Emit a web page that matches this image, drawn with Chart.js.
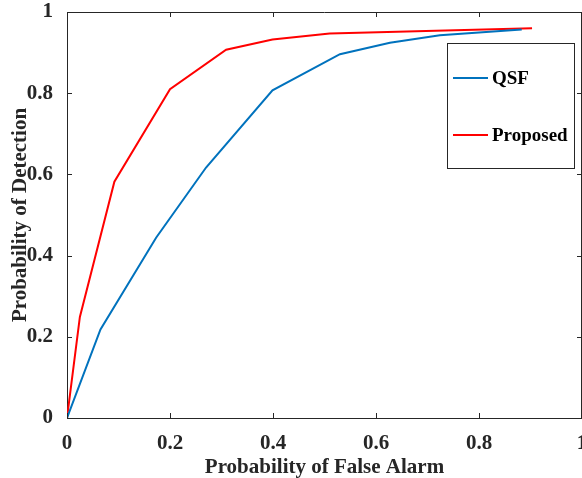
<!DOCTYPE html>
<html>
<head>
<meta charset="utf-8">
<script src="https://cdn.jsdelivr.net/npm/chart.js@4"></script>
<style>
  html, body { margin: 0; padding: 0; background: #fff; overflow: hidden; }
  #wrap { width: 582px; height: 478px; overflow: hidden; }
</style>
</head>
<body>
<div id="wrap"><canvas id="myCanvas" width="620" height="478"></canvas></div>
<script>
// values
let qsfPfa = [0, 0.065, 0.173, 0.27, 0.399, 0.53, 0.627, 0.724, 0.883];
let qsfPd = [0, 0.218, 0.444, 0.617, 0.807, 0.896, 0.924, 0.943, 0.957];
let propPfa = [0, 0.025, 0.092, 0.2, 0.309, 0.399, 0.51, 0.903];
let propPd = [0, 0.249, 0.582, 0.81, 0.907, 0.932, 0.947, 0.96];
let tickValues = [0, 0.2, 0.4, 0.6, 0.8, 1];

let axisColor = '#262626';
let blue = 'rgb(0,114,189)';
let red = 'rgb(255,0,0)';
let fontFamily = '"Liberation Serif", "Times New Roman", serif';

function toPoints(xs, ys) {
    return xs.map((x, i) => ({ x: x, y: ys[i] }));
}

function tickText(v) {
    return String(+Number(v).toFixed(1));
}

// MATLAB style box: top line + ticks pointing inward, legend box inside
let matlabAxes = {
    id: 'matlabAxes',
    afterDraw(chart) {
        let ctx = chart.ctx;
        let area = chart.chartArea;
        let xs = chart.scales.x, ys = chart.scales.y;
        ctx.save();
        ctx.strokeStyle = axisColor;
        ctx.lineWidth = 1;
        ctx.beginPath();
        ctx.moveTo(area.left, area.top + 0.5);
        ctx.lineTo(area.right, area.top + 0.5);
        ctx.moveTo(area.right - 0.5, area.top);
        ctx.lineTo(area.right - 0.5, area.bottom);
        let len = 5;
        tickValues.forEach(v => {
            let px = Math.round(xs.getPixelForValue(v)) + 0.5;
            ctx.moveTo(px, area.bottom);
            ctx.lineTo(px, area.bottom - len);
            ctx.moveTo(px, area.top);
            ctx.lineTo(px, area.top + len);
            let py = Math.round(ys.getPixelForValue(v)) + 0.5;
            ctx.moveTo(area.left, py);
            ctx.lineTo(area.left + len, py);
            ctx.moveTo(area.right, py);
            ctx.lineTo(area.right - len, py);
        });
        ctx.stroke();

        // legend
        let bx = 447, by = 43, bw = 127, bh = 125;
        ctx.fillStyle = '#fff';
        ctx.fillRect(bx, by, bw, bh);
        ctx.strokeStyle = axisColor;
        ctx.strokeRect(bx + 0.5, by + 0.5, bw, bh);
        let rows = [78, 135];
        chart.data.datasets.forEach((ds, i) => {
            ctx.strokeStyle = ds.borderColor;
            ctx.lineWidth = 2;
            ctx.beginPath();
            ctx.moveTo(453, rows[i]);
            ctx.lineTo(488, rows[i]);
            ctx.stroke();
            ctx.fillStyle = '#000';
            ctx.font = 'bold 19px ' + fontFamily;
            ctx.textBaseline = 'middle';
            ctx.textAlign = 'left';
            ctx.fillText(ds.label, 492, rows[i] + 1);
        });
        ctx.restore();
    }
};

let canvas = document.getElementById("myCanvas");
let ctx = canvas.getContext("2d");

new Chart(ctx, {
    type: 'line',
    data: {
        datasets: [{
            label: 'QSF',
            borderColor: blue,
            borderWidth: 2,
            data: toPoints(qsfPfa, qsfPd)
        }, {
            label: 'Proposed',
            borderColor: red,
            borderWidth: 2,
            data: toPoints(propPfa, propPd)
        }]
    },
    options: {
        responsive: false,
        animation: false,
        devicePixelRatio: 1,
        layout: { padding: { left: 0, right: 38, top: 12, bottom: 0 } },
        elements: {
            line: { tension: 0 },
            point: { radius: 0 }
        },
        plugins: {
            legend: { display: false },
            tooltip: { enabled: false }
        },
        scales: {
            x: {
                type: 'linear',
                min: 0,
                max: 1,
                afterFit(scale) {
                    scale.height = 60;
                    scale.paddingLeft = 0;
                    scale.paddingRight = 0;
                },
                grid: { display: false },
                border: { display: true, color: axisColor, width: 1 },
                ticks: {
                    stepSize: 0.2,
                    padding: 5,
                    color: axisColor,
                    maxRotation: 0,
                    callback: tickText,
                    font: { family: fontFamily, size: 21, weight: 'bold' }
                },
                title: {
                    display: true,
                    text: 'Probability of False Alarm',
                    color: axisColor,
                    padding: { top: 0, bottom: -2 },
                    font: { family: fontFamily, size: 21, weight: 'bold' }
                }
            },
            y: {
                type: 'linear',
                min: 0,
                max: 1,
                afterFit(scale) {
                    scale.width = 67;
                    scale.paddingTop = 0;
                    scale.paddingBottom = 0;
                },
                grid: { display: false },
                border: { display: true, color: axisColor, width: 1 },
                ticks: {
                    stepSize: 0.2,
                    padding: 6,
                    color: axisColor,
                    callback: tickText,
                    font: { family: fontFamily, size: 21, weight: 'bold' }
                },
                title: {
                    display: true,
                    text: 'Probability of Detection',
                    color: axisColor,
                    padding: { top: 8, bottom: 0 },
                    font: { family: fontFamily, size: 21, weight: 'bold' }
                }
            }
        }
    },
    plugins: [matlabAxes]
});
</script>
</body>
</html>
